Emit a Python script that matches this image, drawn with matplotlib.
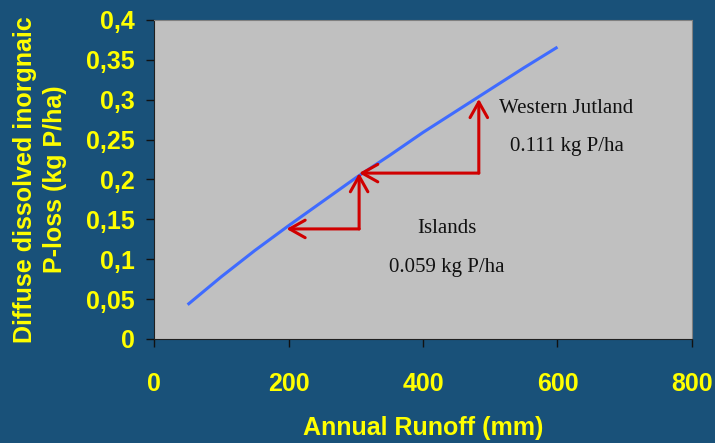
"""
Diffuse DIP loss vs annual runoff chart.
"""
import matplotlib
matplotlib.use("Agg")
import matplotlib.pyplot as plt
from matplotlib.ticker import FuncFormatter

# ── Design tokens ──────────────────────────────────────────────────────────
BG     = "#195179"
PANEL  = "#C0C0C0"
YELLOW = "#FFFF00"
BLUE   = "#3F6BFF"
RED    = "#D00000"

# ── Data ───────────────────────────────────────────────────────────────────
runoff = [50, 100, 150, 200, 250, 300, 350, 400, 450, 500, 550, 600]
p_loss = [0.043, 0.078, 0.111, 0.142, 0.172, 0.202, 0.230, 0.259, 0.286,
          0.313, 0.340, 0.366]

islands_runoff = [197, 305]
islands_ploss = [0.138, 0.208]
jutland_runoff = [305, 483]
jutland_ploss = [0.208, 0.301]

x_ticks = [0, 200, 400, 600, 800]
y_ticks = [0, 0.05, 0.1, 0.15, 0.2, 0.25, 0.3, 0.35, 0.4]

# ── Figure ─────────────────────────────────────────────────────────────────
fig = plt.figure(figsize=(7.15, 4.43), dpi=100)
fig.patch.set_facecolor(BG)
ax = fig.add_axes([0.2154, 0.2348, 0.7524, 0.7201])
ax.set_facecolor(PANEL)

ax.plot(runoff, p_loss, color=BLUE, lw=2.2, solid_capstyle="butt", zorder=3)

ax.set_xlim(0, 800)
ax.set_ylim(0, 0.4)
ax.set_xticks(x_ticks)
ax.set_yticks(y_ticks)
ax.yaxis.set_major_formatter(
    FuncFormatter(lambda v, _: f"{v:g}".replace(".", ",")))

for side in ("top", "right"):
    ax.spines[side].set_color("#808080")
for side in ("left", "bottom"):
    ax.spines[side].set_color("#202020")
ax.tick_params(axis="both", colors="#111111", length=6, width=1,
               labelcolor=YELLOW, labelsize=18)
ax.tick_params(axis="x", pad=18)
ax.tick_params(axis="y", pad=8)
for lab in ax.get_xticklabels() + ax.get_yticklabels():
    lab.set_fontweight("bold")
    lab.set_family("Liberation Sans")

ax.set_xlabel("Annual Runoff (mm)", color=YELLOW, fontsize=18,
              fontweight="bold", family="Liberation Sans", va="center")
ax.xaxis.set_label_coords(0.5, -0.279)
ax.set_ylabel("Diffuse dissolved inorgnaic\nP-loss (kg P/ha)", color=YELLOW,
              fontsize=18, fontweight="bold", family="Liberation Sans",
              va="center", linespacing=1.35)
ax.yaxis.set_label_coords(-0.212, 0.5)

# ── Step arrows ────────────────────────────────────────────────────────────
ARROW = dict(arrowstyle="->,head_length=0.8,head_width=0.45",
             color=RED, lw=2.2, mutation_scale=14,
             shrinkA=0, shrinkB=0)

def step(xs, ys):
    x0, x1 = xs
    y0, y1 = ys
    # horizontal leg back to the curve, vertical leg up to the curve
    ax.annotate("", xy=(x0, y0), xytext=(x1, y0), arrowprops=ARROW, zorder=4)
    ax.annotate("", xy=(x1, y1), xytext=(x1, y0), arrowprops=ARROW, zorder=4)

step(islands_runoff, islands_ploss)
step(jutland_runoff, jutland_ploss)

# ── Labels ─────────────────────────────────────────────────────────────────
SERIF = dict(family="Liberation Serif", fontsize=15, color="#111111",
             ha="center", va="center")
ax.text(0.766, 0.724, "Western Jutland", transform=ax.transAxes, **SERIF)
ax.text(0.768, 0.602, "0.111 kg P/ha", transform=ax.transAxes, **SERIF)
ax.text(0.545, 0.345, "Islands", transform=ax.transAxes, **SERIF)
ax.text(0.545, 0.223, "0.059 kg P/ha", transform=ax.transAxes, **SERIF)

fig.savefig("out.png", dpi=100, facecolor=BG)
plt.close(fig)
